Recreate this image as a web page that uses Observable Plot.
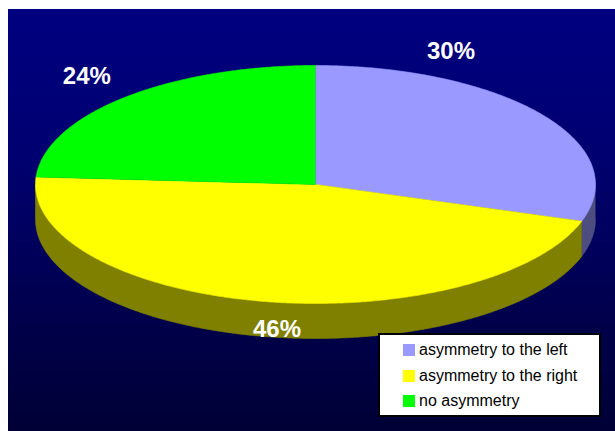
<!DOCTYPE html>
<html>
<head>
<meta charset="utf-8">
<script src="https://cdn.jsdelivr.net/npm/d3@7"></script>
<script src="https://cdn.jsdelivr.net/npm/@observablehq/plot@0.6"></script>
<style>
  html, body { margin: 0; padding: 0; background: #ffffff; }
  #wrap { position: relative; width: 615px; height: 431px; overflow: hidden; background: #ffffff; }
  #bg { position: absolute; left: 8px; top: 9px; right: 0; bottom: 0;
        background: linear-gradient(to bottom, #000080 0%, #000070 35%, #00004a 75%, #000036 100%); }
  #chart { position: absolute; left: 0; top: 0; }
  #legend { position: absolute; left: 378px; top: 333px; width: 219px; height: 80px;
            background: #ffffff; border: 2px solid #000000;
            font-family: "Liberation Sans", Arial, sans-serif; font-size: 16px; color: #000; }
  .item { position: absolute; left: 23px; height: 18px; line-height: 18px; white-space: nowrap; }
  .sw { display: inline-block; width: 12px; height: 12px; vertical-align: -1px; margin-right: 4px; }
</style>
</head>
<body>
<div id="wrap">
  <div id="bg"></div>
  <div id="chart"></div>
  <div id="legend"></div>
</div>
<script>
// ---- data ----
const categories = ["asymmetry to the left", "asymmetry to the right", "no asymmetry"];
const values = [30, 46, 24];
const labels = ["30%", "46%", "24%"];
const topColors = ["#9999FF", "#FFFF00", "#00FF00"];
const sideColors = ["#4D4D80", "#808000", "#008000"];

// ---- layout ----
const W = 615, H = 431;
const cx = 315, cy = 184, rx = 280, ry = 119, depth = 35;
const d = depth / ry;
// label nudges (pixels) from the rim point at each slice's mid angle
const labelNudge = [[-91, -63], [14, 28], [-37, -21]];

const arcs = d3.pie().sort(null).value(v => v)(values);
const step = Math.PI / 360;
function arcPoints(a0, a1) {
  const n = Math.max(2, Math.ceil((a1 - a0) / step));
  return d3.range(n + 1).map(i => a0 + (a1 - a0) * i / n);
}

// side (extruded) polygons: only the front half (PI/2 .. 3PI/2) is visible
const sidePts = [];
arcs.forEach((a, i) => {
  const s = Math.max(a.startAngle, Math.PI / 2), e = Math.min(a.endAngle, 3 * Math.PI / 2);
  if (e <= s) return;
  const ts = arcPoints(s, e);
  ts.forEach(t => sidePts.push({key: "side" + i, u: Math.sin(t), v: Math.cos(t), color: sideColors[i]}));
  ts.slice().reverse().forEach(t => sidePts.push({key: "side" + i, u: Math.sin(t), v: Math.cos(t) - d, color: sideColors[i]}));
});

// top faces
const topPts = [];
arcs.forEach((a, i) => {
  topPts.push({key: "top" + i, u: 0, v: 0, color: topColors[i]});
  arcPoints(a.startAngle, a.endAngle).forEach(t =>
    topPts.push({key: "top" + i, u: Math.sin(t), v: Math.cos(t), color: topColors[i]}));
});

const labelData = arcs.map((a, i) => {
  const m = (a.startAngle + a.endAngle) / 2;
  return {
    text: labels[i],
    u: Math.sin(m) + labelNudge[i][0] / rx,
    v: Math.cos(m) - labelNudge[i][1] / ry
  };
});

const chart = Plot.plot({
  width: W,
  height: H,
  margin: 0,
  x: {domain: [-cx / rx, (W - cx) / rx], axis: null},
  y: {domain: [(cy - H) / ry, cy / ry], axis: null},
  color: {type: "identity"},
  style: {background: "transparent", overflow: "visible"},
  marks: [
    Plot.line(sidePts, {x: "u", y: "v", z: "key", fill: "color", stroke: "color", strokeWidth: 0.6}),
    Plot.line(topPts, {x: "u", y: "v", z: "key", fill: "color", stroke: "color", strokeWidth: 0.6}),
    Plot.text(labelData, {x: "u", y: "v", text: "text", fill: "white", fontSize: 24, fontWeight: "bold",
      fontFamily: "'Liberation Sans', Arial, sans-serif"})
  ]
});
document.getElementById("chart").appendChild(chart);

// legend
const legend = document.getElementById("legend");
const rowTops = [6, 32, 57];
categories.forEach((c, i) => {
  const item = document.createElement("div");
  item.className = "item";
  item.style.top = rowTops[i] + "px";
  const sw = document.createElement("span");
  sw.className = "sw";
  sw.style.background = topColors[i];
  item.appendChild(sw);
  item.appendChild(document.createTextNode(c));
  legend.appendChild(item);
});
</script>
</body>
</html>
